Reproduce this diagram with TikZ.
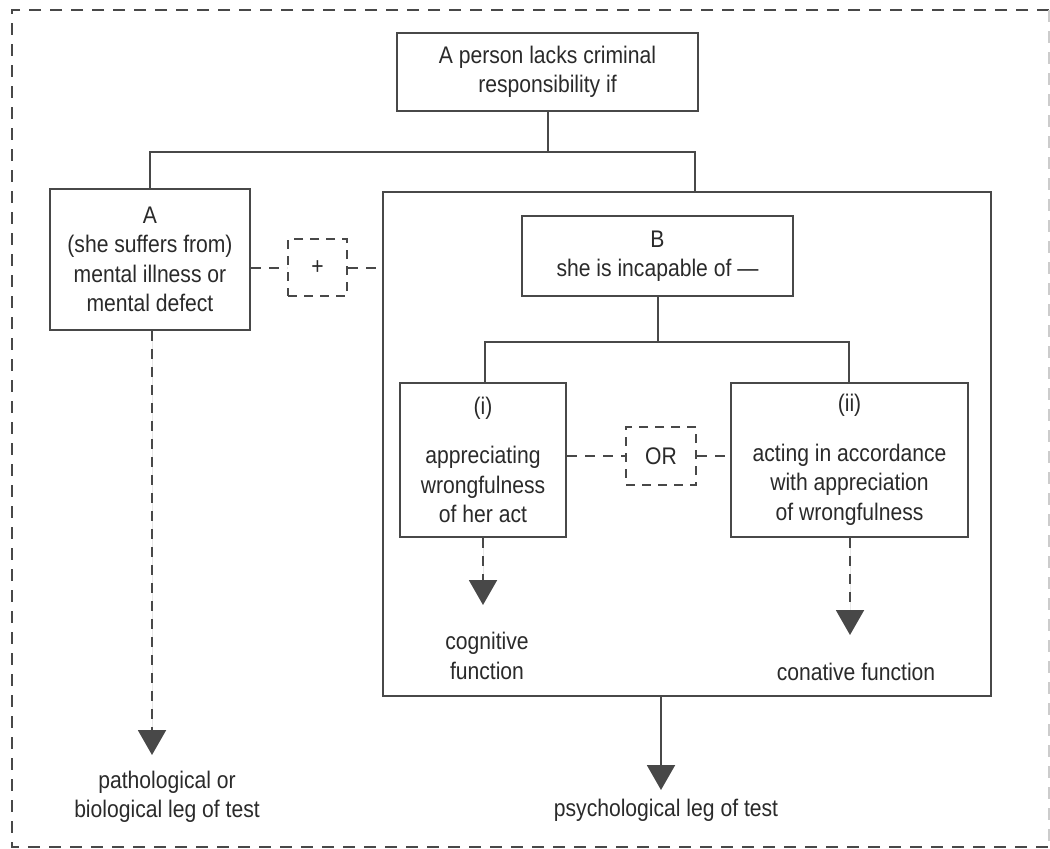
\documentclass[tikz,border=0pt]{standalone}
\usepackage{fontspec}
\setmainfont{Liberation Sans}[FakeStretch=0.88]
\usetikzlibrary{arrows.meta}
\definecolor{linec}{HTML}{484848}
\definecolor{textc}{HTML}{2A2A2A}
\newcommand{\fs}{\fontsize{24}{29.5}\selectfont}
\begin{document}
\begin{tikzpicture}[x=1pt,y=-1pt,
  box/.style={draw=linec, line width=2pt, rectangle, inner sep=0pt, align=center, font=\fs, text=textc},
  dbox/.style={draw=linec, line width=2pt, dash pattern=on 9pt off 7pt, rectangle, inner sep=0pt, align=center, font=\fs, text=textc},
  lbl/.style={align=center, font=\fs, text=textc, inner sep=0pt},
  conn/.style={draw=linec, line width=2pt},
  dconn/.style={draw=linec, line width=2pt, dash pattern=on 10pt off 8pt},
  tip/.style={-{Triangle[width=28pt,length=25pt]}, fill=linec}
]
\useasboundingbox (0,0) rectangle (1050,849);
\fill[white] (0,0) rectangle (1050,849);
% outer dashed frame
\draw[linec, line width=2pt, dash pattern=on 12pt off 9pt] (1049,10) -- (12,10) -- (12,847) -- (1049,847);
\draw[gray!40, line width=2pt, dash pattern=on 12pt off 9pt] (1049,10) -- (1049,847);

% boxes
\node[box, minimum width=301pt, minimum height=78pt] (top) at (547.5,72) {A person lacks criminal\\responsibility if};
\node[box, minimum width=200pt, minimum height=141pt] (A) at (150,259.5) {A\\(she suffers from)\\mental illness or\\mental defect};
\node[dbox, minimum width=59pt, minimum height=57pt] (plus) at (317.5,267.5) {+};
\node[box, minimum width=608pt, minimum height=504pt] (big) at (687,444) {};
\node[box, minimum width=271pt, minimum height=80pt] (B) at (657.5,256) {B\\she is incapable of ---};
\node[box, minimum width=166pt, minimum height=154pt] (i) at (483,460) {(i)\\[20pt]appreciating\\wrongfulness\\of her act};
\node[dbox, minimum width=70pt, minimum height=58pt] (or) at (661,456) {OR};
\node[box, minimum width=237pt, minimum height=154pt] (ii) at (849.5,460) {(ii)\\[20pt]acting in accordance\\with appreciation\\of wrongfulness};

% labels
\node[lbl] (cog) at (487,656) {cognitive\\function};
\node[lbl] (con) at (856,672) {conative function};
\node[lbl] (path) at (167,797) {pathological or\\biological leg of test};
\node[lbl] (psy) at (666,810) {psychological leg of test};

% tree connectors
\coordinate (jl) at (150,152);
\coordinate (jr) at (695,152);
\draw[conn] (top.south) -- (top.south |- jl);
\draw[conn] (A.north) -- (jl) -- (jr) -- (jr |- big.north);
\coordinate (kl) at (485,342);
\coordinate (kr) at (849,342);
\draw[conn] (B.south) -- (B.south |- kl);
\draw[conn] (kl |- i.north) -- (kl) -- (kr) -- (kr |- ii.north);

% dashed links
\draw[dconn] (A.east |- plus.west) -- (plus.west);
\draw[dconn] (plus.east) -- (big.west |- plus.east);
\draw[dconn] (i.east |- or.west) -- (or.west);
\draw[dconn] (or.east) -- (ii.west |- or.east);

% arrows
\coordinate (t1) at (483,605);
\coordinate (t2) at (850,635);
\coordinate (t3) at (152,755);
\coordinate (t4) at (661,790);
\draw[dconn, tip] (i.south) -- (t1);
\draw[dconn, tip] (t2 |- ii.south) -- (t2);
\draw[dconn, tip] (t3 |- A.south) -- (t3);
\draw[conn, tip] (t4 |- big.south) -- (t4);
\end{tikzpicture}
\end{document}
